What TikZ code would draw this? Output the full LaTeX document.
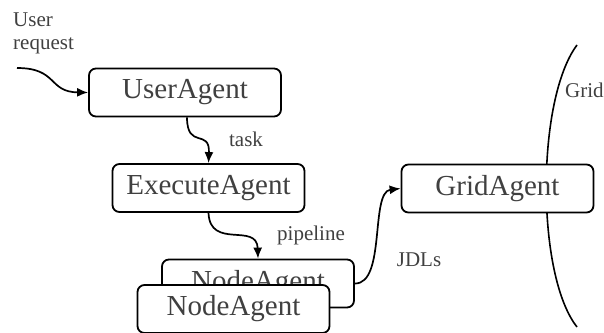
\documentclass[tikz,border=0pt]{standalone}
\usepackage{fontspec}
\setmainfont{Liberation Serif}
\usetikzlibrary{arrows.meta}
\definecolor{txtgray}{HTML}{404040}
\tikzset{
  agent/.style={draw=black, line width=1.8pt, fill=white, rounded corners=7pt,
    minimum width=192pt, minimum height=48pt, inner sep=0pt,
    text=txtgray, font=\fontsize{29}{32}\selectfont},
  lbl/.style={text=txtgray, font=\fontsize{21}{23}\selectfont, inner sep=0pt},
  flow/.style={line width=1.7pt, -{Latex[length=11pt,width=9pt]}},
  boundary/.style={line width=1.6pt}
}
\begin{document}
\begin{tikzpicture}[x=1pt, y=-1pt]
\useasboundingbox (0,0) rectangle (604,332);

% grid boundary, drawn first so the boxes cover it
\coordinate (gtop) at (577,45);
\coordinate (gbot) at (577,327);
\draw[boundary] (gtop) .. controls (536,100) and (536,275) .. (gbot);
\node[lbl, anchor=west] (gridlbl) at (565,90) {Grid};

% agents
\node[agent] (user) at (185,92.5) {UserAgent};
\node[agent] (exec) at (208.5,188) {ExecuteAgent};
\node[agent] (grid) at (497.5,188.5) {GridAgent};
\node[agent] (nodeb) at (258,283.5) {NodeAgent};
\node[agent] (nodef) at (233.5,309) {NodeAgent};

% incoming request
\node[lbl, anchor=north west, align=left] (req) at (13,13) {User\\request};
\coordinate (reqstart) at (17,68);
\draw[flow] (reqstart) .. controls (58,68) and (48,92) .. (user.west);

% task flow
\draw[flow] ([xshift=2pt]user.south) .. controls (187,150) and (210,128) .. (exec.north);
\node[lbl] (tasklbl) at (246,139) {task};

\draw[flow] (exec.south) .. controls (210,250) and (257,222) .. (nodeb.north);
\node[lbl] (pipelbl) at (311,235) {pipeline};

\draw[flow] (nodeb.east) .. controls (386,284) and (370,192) .. (grid.west);
\node[lbl] (jdllbl) at (419,260) {JDLs};
\end{tikzpicture}
\end{document}
